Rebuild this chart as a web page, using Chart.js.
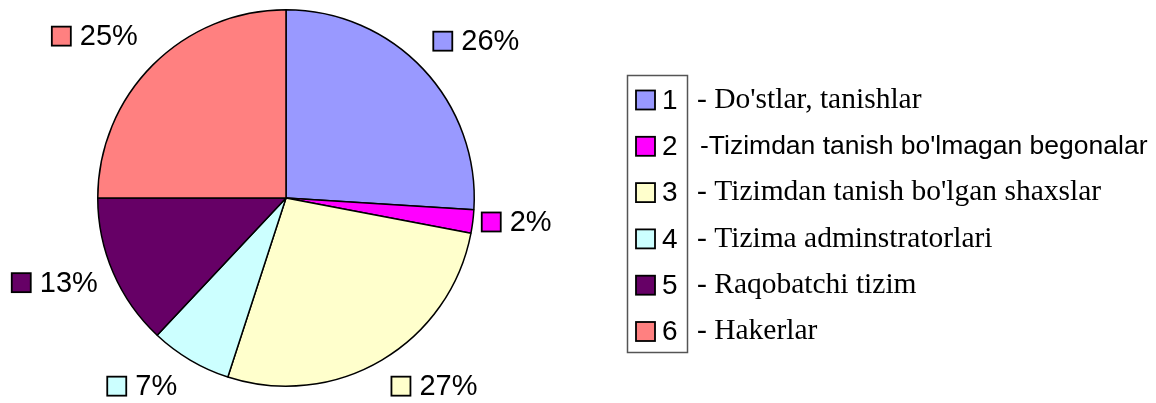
<!DOCTYPE html>
<html><head><meta charset="utf-8">
<script src="https://cdn.jsdelivr.net/npm/chart.js@4/dist/chart.umd.min.js"></script>
<style>html,body{margin:0;padding:0;background:#fff;}#wrap{width:1156px;height:403px;position:relative;}</style>
</head><body><div id="wrap"><canvas id="c"></canvas></div>
<script>
const categories = ['1', '2', '3', '4', '5', '6'];
const descriptions = [
  "- Do'stlar, tanishlar",
  "-Tizimdan tanish bo'lmagan begonalar",
  "- Tizimdan tanish bo'lgan shaxslar",
  "- Tizima adminstratorlari",
  "- Raqobatchi tizim",
  "- Hakerlar"
];
const values = [26, 2, 27, 7, 13, 25];
const colors = ['#9999FF', '#FF00FF', '#FFFFCC', '#CCFFFF', '#660066', '#FF8080'];

const SANS = '"Liberation Sans", Arial, sans-serif';
const SERIF = '"Liberation Serif", "Times New Roman", serif';
const descFonts = ['29.5px ' + SERIF, '26.5px ' + SANS, '29.5px ' + SERIF, '29.5px ' + SERIF, '29.5px ' + SERIF, '29.5px ' + SERIF];

const labelPlugin = {
  id: 'excelLabels',
  afterDatasetsDraw(chart) {
    const ctx = chart.ctx;
    const meta = chart.getDatasetMeta(0);
    const total = values.reduce((a, b) => a + b, 0);
    ctx.save();
    ctx.font = '29px ' + SANS;
    ctx.textBaseline = 'middle';
    ctx.textAlign = 'left';
    meta.data.forEach((arc, i) => {
      const p = arc.getProps(['x', 'y', 'startAngle', 'endAngle', 'outerRadius'], true);
      const mid = (p.startAngle + p.endAngle) / 2;
      const ux = Math.cos(mid), uy = Math.sin(mid);
      const text = Math.round(values[i] / total * 100) + '%';
      const tw = ctx.measureText(text).width;
      const sq = 19, gap = 9;
      const w = sq + gap + tw;
      const cx = p.x + (p.outerRadius + 2) * ux + Math.sign(ux) * 0.6 * w + (ux < 0 ? -5 : 0);
      const cy = p.y + (p.outerRadius + 35) * uy - 4;
      const left = cx - w / 2;
      ctx.fillStyle = colors[i];
      ctx.fillRect(left, cy - sq / 2, sq, sq);
      ctx.lineWidth = 1.8;
      ctx.strokeStyle = '#000';
      ctx.strokeRect(left, cy - sq / 2, sq, sq);
      ctx.fillStyle = '#000';
      ctx.fillText(text, left + sq + gap, cy + 1);
    });
    ctx.restore();
  }
};

const legendPlugin = {
  id: 'excelLegend',
  afterDraw(chart) {
    const ctx = chart.ctx;
    const boxL = 627, boxT = 75, boxW = 60, boxH = 277;
    const rowH = 46.3;
    ctx.save();
    ctx.lineWidth = 1.5;
    ctx.strokeStyle = '#555';
    ctx.strokeRect(boxL + 0.5, boxT + 0.5, boxW, boxH);
    ctx.textBaseline = 'middle';
    ctx.textAlign = 'left';
    categories.forEach((c, i) => {
      const y = boxT + 25 + i * rowH;
      ctx.fillStyle = colors[i];
      ctx.fillRect(636, y - 9.5, 19, 19);
      ctx.strokeStyle = '#000';
      ctx.lineWidth = 1.8;
      ctx.strokeRect(636, y - 9.5, 19, 19);
      ctx.fillStyle = '#000';
      ctx.font = '28px ' + SANS;
      ctx.fillText(c, 662, y + 1);
      ctx.font = descFonts[i];
      ctx.fillText(descriptions[i], i === 1 ? 700 : 697, y);
    });
    ctx.restore();
  }
};

new Chart(document.getElementById('c'), {
  type: 'pie',
  data: {
    labels: categories.map((c, i) => c + ' ' + descriptions[i]),
    datasets: [{
      data: values,
      backgroundColor: colors,
      borderColor: '#000',
      borderWidth: 1.5
    }]
  },
  options: {
    responsive: true,
    maintainAspectRatio: false,
    animation: false,
    layout: { padding: { left: 97, right: 681, top: 9, bottom: 16 } },
    plugins: { legend: { display: false }, tooltip: { enabled: false } }
  },
  plugins: [labelPlugin, legendPlugin]
});
</script>
</body></html>
